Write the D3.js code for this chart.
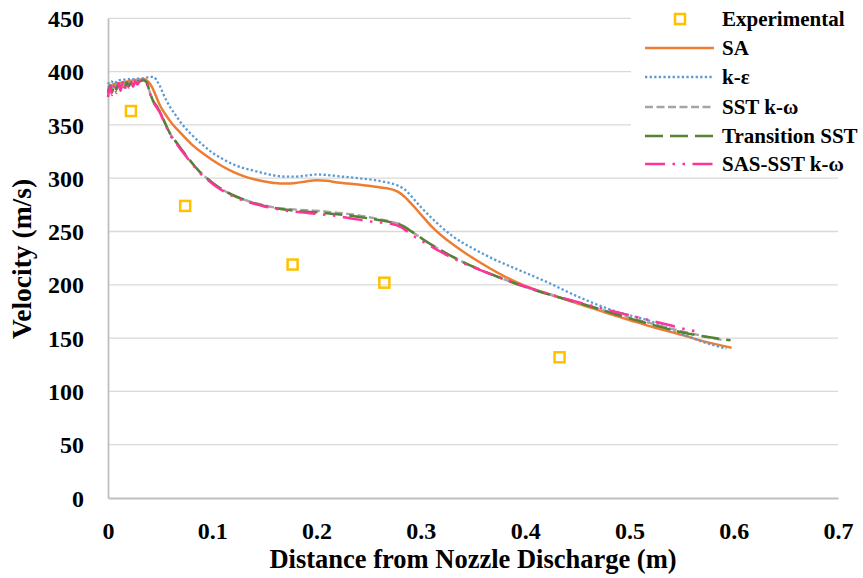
<!DOCTYPE html>
<html><head><meta charset="utf-8">
<script src="https://cdn.jsdelivr.net/npm/d3@7"></script>
<style>body{margin:0;background:#fff}svg{display:block}text{font-family:"Times New Roman","Liberation Serif",serif;font-weight:bold;fill:#000}</style>
</head><body><svg id="c" width="863" height="578"></svg>
<script>
const xTicks = [0,0.1,0.2,0.3,0.4,0.5,0.6,0.7];
const yTicks = [0,50,100,150,200,250,300,350,400,450];
const seriesNames = ["Experimental","SA","k-ε","SST k-ω","Transition SST","SAS-SST k-ω"];

const expData = [[0.022,363],[0.074,274],[0.177,219],[0.265,202],[0.433,132]];

const saData = [[0,385],[0.005,388],[0.01,389],[0.015,390],[0.02,391],[0.025,392],[0.03,392.5],[0.035,393],[0.038,391],[0.042,386],[0.046,377],[0.05,368],[0.055,360],[0.06,353],[0.07,342],[0.08,332],[0.09,324],[0.1,317],[0.11,311],[0.12,306],[0.13,302],[0.14,299],[0.15,297],[0.16,295.5],[0.17,295],[0.18,295.5],[0.19,297],[0.2,298],[0.21,297.5],[0.22,296],[0.23,295],[0.24,294],[0.25,293],[0.26,291.5],[0.27,290],[0.275,288.5],[0.28,286],[0.285,282],[0.29,277],[0.3,266],[0.31,255],[0.32,246],[0.33,238.5],[0.34,231.5],[0.36,219],[0.38,208],[0.4,199],[0.43,189],[0.455,181],[0.48,173],[0.5,167],[0.52,161],[0.55,153],[0.575,146],[0.598,141]];

const keData = [[0,388],[0.003,391],[0.006,389],[0.01,392],[0.015,392.5],[0.02,393],[0.025,393],[0.03,393.5],[0.035,394],[0.04,395],[0.044,395],[0.047,391],[0.05,386],[0.053,379],[0.056,373],[0.06,366],[0.065,359],[0.07,352],[0.08,341],[0.09,332],[0.1,324],[0.11,318],[0.12,313],[0.13,309.5],[0.14,307],[0.15,304.5],[0.16,302.5],[0.17,301.5],[0.18,301.5],[0.19,302.5],[0.2,303.5],[0.21,303],[0.22,302],[0.23,301],[0.24,300],[0.25,299],[0.26,297.5],[0.27,295.5],[0.278,293],[0.285,289],[0.29,284],[0.3,273],[0.31,263],[0.32,254],[0.33,246],[0.34,239.5],[0.352,233],[0.37,224],[0.39,215.5],[0.42,203],[0.455,187],[0.487,175],[0.52,166],[0.55,154],[0.575,145],[0.593,140]];

const sstData = [[0,382],[0.002,389],[0.004,383],[0.006,389],[0.008,384],[0.01,390],[0.012,385],[0.014,390],[0.016,386],[0.018,391],[0.02,387],[0.022,391],[0.025,389],[0.028,391.5],[0.031,391.5],[0.034,392],[0.037,390],[0.04,381],[0.043,373],[0.047,367],[0.05,362],[0.055,351],[0.06,341],[0.066,333],[0.072,325],[0.08,315],[0.088,306],[0.096,299],[0.104,293],[0.112,288],[0.12,284],[0.13,280],[0.14,277],[0.15,274.5],[0.16,272.5],[0.175,271],[0.19,270],[0.2,269.5],[0.216,268],[0.235,266],[0.255,262.5],[0.27,259.5],[0.281,256.5],[0.287,253],[0.295,247.5],[0.303,242],[0.319,232.5],[0.337,223],[0.35,217],[0.375,207],[0.4,198],[0.43,189],[0.455,182],[0.488,172.5],[0.52,164],[0.552,156],[0.575,151],[0.59,148]];

const transData = [[0,380],[0.002,387],[0.004,381],[0.006,388],[0.008,383],[0.01,389],[0.012,384],[0.014,389],[0.016,385],[0.018,390],[0.02,386],[0.022,390],[0.025,388],[0.028,391],[0.031,391],[0.034,392],[0.037,390],[0.04,381],[0.043,373],[0.047,367],[0.05,362],[0.055,351],[0.06,341],[0.066,333],[0.072,325],[0.08,315],[0.088,306],[0.096,299],[0.104,293],[0.112,288],[0.12,284],[0.13,280],[0.14,276.5],[0.15,274],[0.16,272],[0.175,270],[0.19,268.5],[0.2,268],[0.216,266.5],[0.235,264.5],[0.255,261.5],[0.27,259],[0.281,256],[0.287,252.5],[0.295,247.5],[0.303,242],[0.319,232.5],[0.337,223],[0.35,217],[0.375,207],[0.4,198],[0.43,189],[0.455,182],[0.488,172],[0.52,163],[0.552,155],[0.575,151],[0.597,148]];

const sasData = [[0,376],[0.002,386],[0.004,378],[0.006,388],[0.008,380],[0.01,389],[0.012,382],[0.014,390],[0.016,383],[0.018,390],[0.02,385],[0.022,391],[0.024,386],[0.026,391],[0.028,388],[0.031,391.5],[0.034,391.5],[0.037,389],[0.04,380],[0.043,372],[0.047,366],[0.05,361],[0.055,350],[0.06,340],[0.066,332],[0.072,324],[0.08,314],[0.088,305],[0.096,298],[0.104,292],[0.112,287],[0.12,283],[0.13,279],[0.14,276],[0.15,273.5],[0.16,271.5],[0.175,269],[0.19,267.5],[0.2,266.5],[0.216,265],[0.235,262],[0.255,259],[0.27,257.5],[0.281,254],[0.287,250],[0.295,244.5],[0.303,240],[0.319,231],[0.337,222],[0.35,216.5],[0.375,207],[0.4,198.5],[0.417,193],[0.45,184],[0.487,174.5],[0.51,169],[0.535,163],[0.558,157.5],[0.567,156]];

const svg = d3.select("#c");
const x = d3.scaleLinear().domain([0,0.7]).range([108,838]);
const y = d3.scaleLinear().domain([0,450]).range([498,18.3]);

// gridlines
svg.append("g").selectAll("line").data(yTicks.filter(d=>d>0)).join("line")
  .attr("x1",x(0)).attr("x2",x(0.7)).attr("y1",d=>y(d)).attr("y2",d=>y(d))
  .attr("stroke","#d9d9d9").attr("stroke-width",1.3);

// axes
const xAxis = svg.append("g").attr("transform",`translate(0,${y(0)})`)
  .call(d3.axisBottom(x).tickValues(xTicks).tickSize(0).tickPadding(24).tickFormat(d=>d===0?"0":d3.format(".1f")(d)));
xAxis.select(".domain").attr("stroke","#bfbfbf").attr("stroke-width",1.8);
xAxis.selectAll("text").attr("font-size",24).attr("font-family",null);

const yAxis = svg.append("g").attr("transform",`translate(${x(0)},0)`)
  .call(d3.axisLeft(y).tickValues(yTicks).tickSize(0).tickPadding(24).tickFormat(d3.format("d")));
yAxis.select(".domain").attr("stroke","#bfbfbf").attr("stroke-width",1.8);
yAxis.selectAll("text").attr("font-size",24).attr("font-family",null).attr("dy","0.34em");

// legend background
svg.append("rect").attr("x",631).attr("y",0).attr("width",232).attr("height",176).attr("fill","#fff");

const styles = [
  {data:saData, color:"#ED7D31", dash:null, w:2.5},
  {data:keData, color:"#5B9BD5", dash:"2.3,2.3", w:2.3},
  {data:sstData, color:"#A5A5A5", dash:"8,3.5", w:2.4},
  {data:transData, color:"#548235", dash:"18,7", w:2.5},
  {data:sasData, color:"#FF3399", dash:"20,7.5,2.5,7.5,2.5,7.5", w:2.5}
];
const line = d3.line().x(d=>x(d[0])).y(d=>y(d[1])).curve(d3.curveMonotoneX);
svg.append("g").selectAll("path").data(styles).join("path")
  .attr("d",s=>line(s.data)).attr("fill","none")
  .attr("stroke",s=>s.color).attr("stroke-width",s=>s.w)
  .attr("stroke-dasharray",s=>s.dash);

// experimental markers
svg.append("g").selectAll("rect").data(expData).join("rect")
  .attr("x",d=>x(d[0])-5).attr("y",d=>y(d[1])-5).attr("width",10).attr("height",10)
  .attr("fill","none").attr("stroke","#FFC000").attr("stroke-width",2.5);

// legend
const lg = svg.append("g");
const rowY = [19,48,77,107,136,164];
lg.append("rect").attr("x",675).attr("y",rowY[0]-5).attr("width",10).attr("height",10)
  .attr("fill","none").attr("stroke","#FFC000").attr("stroke-width",2.5);
styles.forEach((s,i)=>{
  lg.append("line").attr("x1",645).attr("x2",714).attr("y1",rowY[i+1]).attr("y2",rowY[i+1])
    .attr("stroke",s.color).attr("stroke-width",s.w).attr("stroke-dasharray",s.dash);
});
lg.selectAll("text").data(seriesNames).join("text")
  .attr("x",722).attr("y",(d,i)=>rowY[i]+7).attr("font-size",21).text(d=>d);

// axis titles
svg.append("text").attr("x",473).attr("y",568).attr("text-anchor","middle").attr("font-size",26.5)
  .text("Distance from Nozzle Discharge (m)");
svg.append("text").attr("transform","translate(31,259) rotate(-90)").attr("text-anchor","middle").attr("font-size",27.5)
  .text("Velocity (m/s)");
</script></body></html>
